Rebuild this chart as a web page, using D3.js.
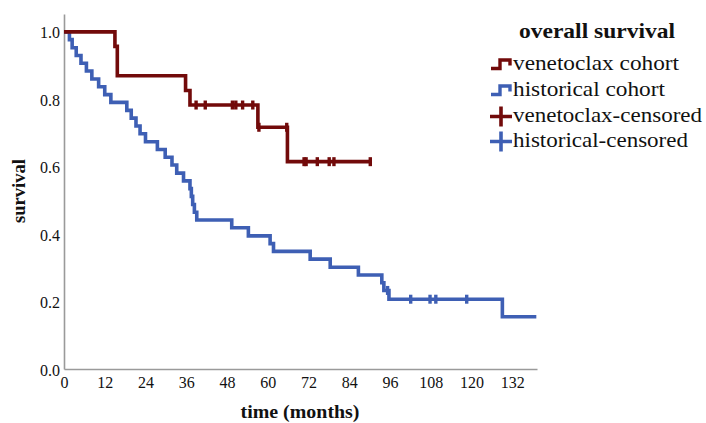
<!DOCTYPE html>
<html>
<head>
<meta charset="utf-8">
<script src="https://cdn.jsdelivr.net/npm/d3@7"></script>
<style>
  html, body { margin: 0; padding: 0; background: #fff; }
  svg { display: block; }
  text { font-family: "Liberation Serif", "DejaVu Serif", serif; fill: #111; }
</style>
</head>
<body>
<svg id="chart" width="706" height="423"></svg>
<script>
// ---- data ----
const xTicks = [0, 12, 24, 36, 48, 60, 72, 84, 96, 108, 120, 132];
const yTicks = [0, 0.2, 0.4, 0.6, 0.8, 1.0];

// venetoclax cohort: event times (months) and survival after each step
const venTimes = [15.0, 15.7, 35.8, 37.1, 57.1, 65.8];
const venSurv  = [0.957, 0.870, 0.826, 0.783, 0.717, 0.615];
const venEnd = 90.2;
const venCensTimes = [38.9, 41.6, 49.6, 50.6, 52.6, 55.6, 57.4, 65.6, 70.7, 71.3, 74.6, 78.1, 79.5, 90.2];

// historical cohort
const hisTimes = [1.6, 2.4, 3.6, 5.0, 6.6, 8.2, 10.2, 12.0, 13.8, 18.5, 19.8, 21.2, 22.4, 24.0,
                  27.5, 29.8, 31.8, 33.2, 35.2, 37.1, 37.5, 37.9, 38.4, 39.1,
                  49.4, 54.3, 60.7, 61.7, 72.5, 78.4, 86.7, 93.6, 94.2, 95.7, 129.1];
const hisSurv  = [0.977, 0.953, 0.930, 0.907, 0.884, 0.860, 0.837, 0.814, 0.791, 0.767, 0.744, 0.721, 0.698, 0.674,
                  0.651, 0.628, 0.605, 0.581, 0.558, 0.535, 0.512, 0.488, 0.465, 0.442,
                  0.419, 0.395, 0.372, 0.349, 0.326, 0.302, 0.279, 0.256, 0.233, 0.207, 0.155];
const hisEnd = 139.1;
const hisCensTimes = [95.3, 102.1, 107.8, 109.5, 118.6];

const legendTitle = "overall survival";
const legendLabels = ["venetoclax cohort", "historical cohort", "venetoclax-censored", "historical-censored"];
const xTitle = "time (months)";
const yTitle = "survival";

// ---- drawing ----
const RED = "#720a0a";
const BLUE = "#3e5fb4";
const AXIS = "#9a9a9a";

const svg = d3.select("#chart");
const x = d3.scaleLinear().domain([0, 139.3]).range([64, 537]);
const y = d3.scaleLinear().domain([0, 1.053]).range([369, 14]);

// axes
const xAxis = svg.append("g").attr("transform", `translate(0,${y(0)})`)
  .call(d3.axisBottom(x).tickValues(xTicks).tickSize(0).tickPadding(8).tickFormat(d3.format("d")));
const yAxis = svg.append("g").attr("transform", `translate(${x(0)},0)`)
  .call(d3.axisLeft(y).tickValues(yTicks).tickSize(0).tickPadding(4).tickFormat(d3.format(".1f")));
[xAxis, yAxis].forEach(g => {
  g.select(".domain").attr("stroke", AXIS).attr("stroke-width", 1.6);
  g.selectAll("text").style("font-family", '"Liberation Serif", serif').style("font-size", "16px").attr("fill", "#111");
});
yAxis.selectAll("text").attr("dy", "0.38em");

// step curves
function stepPoints(times, surv, end) {
  const pts = [[0, 1]];
  times.forEach((t, i) => pts.push([t, surv[i]]));
  pts.push([end, surv[surv.length - 1]]);
  return pts;
}
function survAt(times, surv, t) {
  let s = 1;
  for (let i = 0; i < times.length; i++) if (times[i] <= t) s = surv[i];
  return s;
}
const line = d3.line().x(d => x(d[0])).y(d => y(d[1])).curve(d3.curveStepAfter);

svg.append("path").datum(stepPoints(hisTimes, hisSurv, hisEnd))
  .attr("d", line).attr("fill", "none").attr("stroke", BLUE).attr("stroke-width", 3.6);
svg.append("path").datum(stepPoints(venTimes, venSurv, venEnd))
  .attr("d", line).attr("fill", "none").attr("stroke", RED).attr("stroke-width", 3.6);

function censors(times, evTimes, evSurv, color) {
  svg.append("g").selectAll("line").data(times).join("line")
    .attr("x1", d => x(d)).attr("x2", d => x(d))
    .attr("y1", d => y(survAt(evTimes, evSurv, d)) - 4.5)
    .attr("y2", d => y(survAt(evTimes, evSurv, d)) + 4.5)
    .attr("stroke", color).attr("stroke-width", 3.4);
}
censors(hisCensTimes, hisTimes, hisSurv, BLUE);
censors(venCensTimes, venTimes, venSurv, RED);

// axis titles
svg.append("text").attr("x", 300).attr("y", 418).attr("text-anchor", "middle")
  .attr("textLength", 119).attr("lengthAdjust", "spacingAndGlyphs")
  .style("font-size", "19px").style("font-weight", "bold").text(xTitle);
svg.append("text").attr("transform", "translate(25,191) rotate(-90)").attr("text-anchor", "middle")
  .attr("textLength", 64).attr("lengthAdjust", "spacingAndGlyphs")
  .style("font-size", "18px").style("font-weight", "bold").text(yTitle);

// legend
const lg = svg.append("g");
lg.append("text").attr("x", 519).attr("y", 38)
  .attr("textLength", 156).attr("lengthAdjust", "spacingAndGlyphs")
  .style("font-size", "21px").style("font-weight", "bold").text(legendTitle);
const rowY = [70, 96, 121.5, 146.5];
const rowW = [166, 152, 189, 175];
const colors = [RED, BLUE, RED, BLUE];
legendLabels.forEach((lab, i) => {
  const by = rowY[i];
  if (i < 2) {
    lg.append("path")
      .attr("d", `M491,${by - 1.5} H500 V${by - 10} H510 V${by - 4.5}`)
      .attr("fill", "none").attr("stroke", colors[i]).attr("stroke-width", 3.4);
  } else {
    const cy = by - 5;
    lg.append("path")
      .attr("d", `M490,${cy} H512 M501,${cy - 10} V${cy + 10}`)
      .attr("fill", "none").attr("stroke", colors[i]).attr("stroke-width", 3.6);
  }
  lg.append("text").attr("x", 513).attr("y", by)
    .attr("textLength", rowW[i]).attr("lengthAdjust", "spacingAndGlyphs")
    .style("font-size", "21px").text(lab);
});
</script>
</body>
</html>
